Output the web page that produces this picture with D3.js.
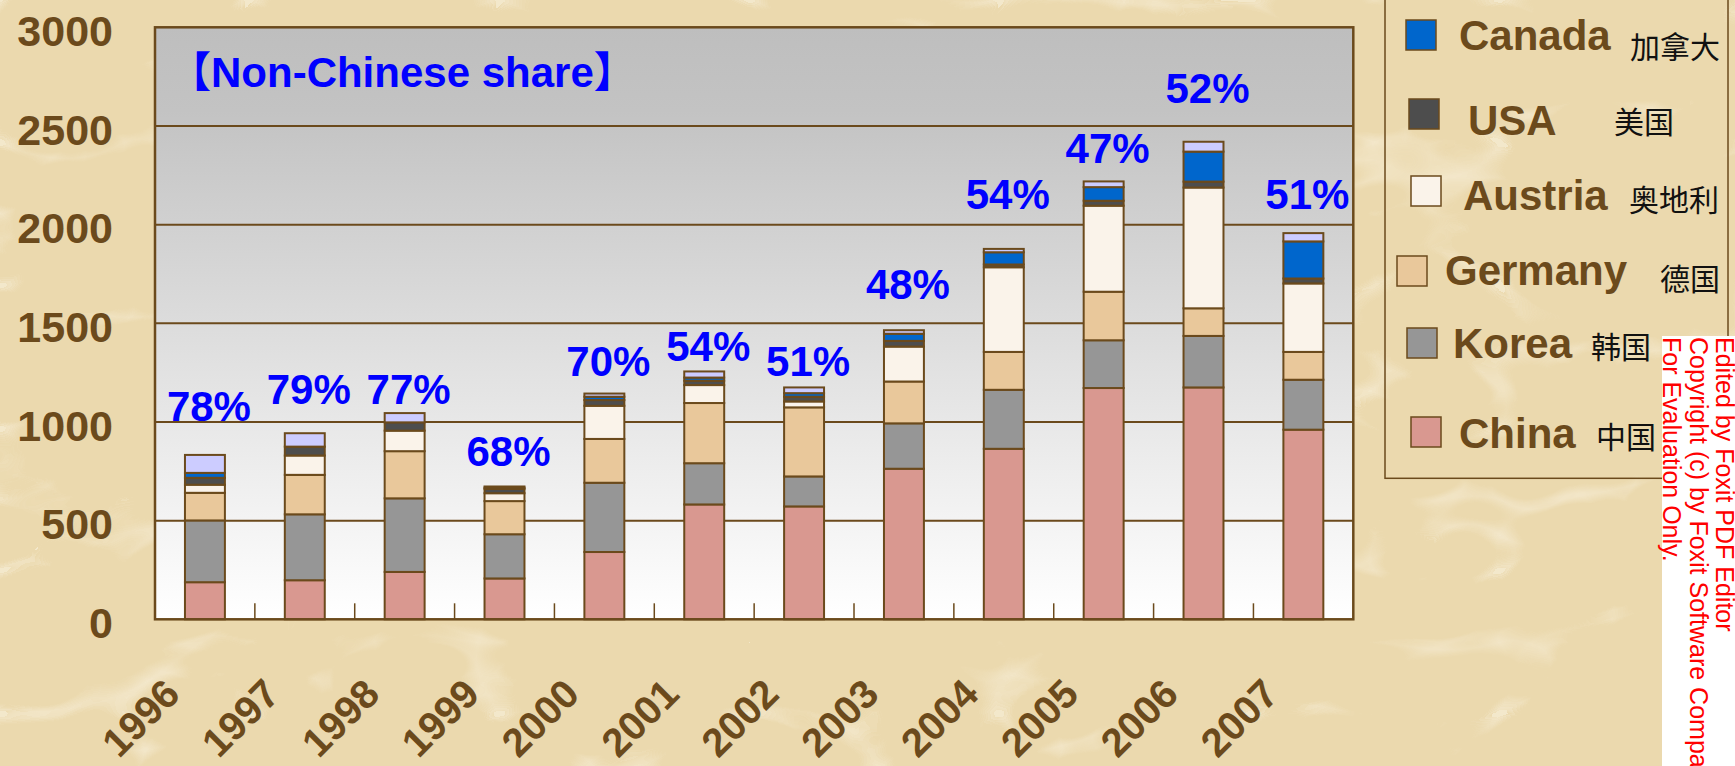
<!DOCTYPE html>
<html lang="en">
<head>
<meta charset="UTF-8">
<title>Non-Chinese share</title>
<script src="https://d3js.org/d3.v7.min.js"></script>
<style>
  body { margin: 0; background: #ebd9ae; }
  svg { display: block; }
  .num { font-family: "Liberation Sans", Arial, sans-serif; font-weight: bold; }
</style>
</head>
<body>
<svg id="chart" width="1735" height="766"></svg>
<script>
// values (bottom to top of each bar)
const years   = ["1996","1997","1998","1999","2000","2001","2002","2003","2004","2005","2006","2007"];
const china   = [188, 198, 240, 207, 341, 582, 572, 763, 864, 1172, 1175, 961];
const korea   = [313, 334, 373, 224, 351, 209, 152, 230, 299, 242, 261, 253];
const germany = [140, 200, 239, 168, 222, 305, 350, 212, 192, 246, 140, 141];
const austria = [41, 98, 104, 40, 168, 91, 30, 177, 429, 436, 612, 347];
const usa     = [35, 45, 42, 22, 29, 22, 24, 29, 14, 25, 30, 25];
const canada  = [25, 0, 0, 6, 17, 16, 18, 36, 62, 69, 152, 188];
const others  = [91, 68, 47, 6, 16, 31, 29, 18, 17, 29, 50, 42];

const shareLabels = ["78%","79%","77%","68%","70%","54%","51%","48%","54%","47%","52%","51%"];
const shareLabelAt = [1007, 1092, 1092, 779, 1234, 1310, 1234, 1623, 2077, 2310, 2614, 2077];

const yTicks = [0, 500, 1000, 1500, 2000, 2500, 3000];

const keys = ["China", "Korea", "Germany", "Austria", "USA", "Canada", "Others"];
const colors = {
  China: "#d99890", Korea: "#969696", Germany: "#e9c89b", Austria: "#faf3ea",
  USA: "#4d4d4d", Canada: "#0066cc", Others: "#ccccff"
};

const legendNames = ["Canada", "USA", "Austria", "Germany", "Korea", "China"];
const legendZh    = ["加拿大", "美国", "奥地利", "德国", "韩国", "中国"];
// hand-arranged legend, as in the slide
const legendLayout = [
  { sx: 1406, sy: 20,  tx: 1459, ty: 50,  zx: 1630, zy: 58 },
  { sx: 1409, sy: 99,  tx: 1468, ty: 135, zx: 1614, zy: 133 },
  { sx: 1411, sy: 176, tx: 1463, ty: 210, zx: 1629, zy: 211 },
  { sx: 1397, sy: 256, tx: 1445, ty: 285, zx: 1660, zy: 290 },
  { sx: 1407, sy: 328, tx: 1453, ty: 358, zx: 1591, zy: 358 },
  { sx: 1411, sy: 417, tx: 1459, ty: 448, zx: 1596, zy: 448 }
];

const brown = "#6b4a1c";
const rows = years.map((yr, i) => ({
  year: yr, China: china[i], Korea: korea[i], Germany: germany[i], Austria: austria[i],
  USA: usa[i], Canada: canada[i], Others: others[i]
}));

const svg = d3.select("#chart");
const plot = { left: 155, right: 1353.3, top: 27.3, bottom: 619.3 };

const x = d3.scaleBand().domain(years)
  .range([plot.left, plot.right])
  .paddingInner(0.6).paddingOuter(0.3);
const y = d3.scaleLinear().domain([0, 3000]).range([plot.bottom, plot.top]);

const defs = svg.append("defs");

// parchment texture for the slide background
const paper = defs.append("filter").attr("id", "paper")
  .attr("x", 0).attr("y", 0).attr("width", "100%").attr("height", "100%");
paper.append("feTurbulence")
  .attr("type", "turbulence").attr("baseFrequency", "0.004 0.007")
  .attr("numOctaves", 3).attr("seed", 11);
paper.append("feColorMatrix").attr("type", "matrix")
  .attr("values", "0 0 0 0 1  0 0 0 0 0.97  0 0 0 0 0.9  -5 0 0 0 0.75");

svg.append("rect").attr("width", 1735).attr("height", 766).attr("fill", "#ebd9ae");
svg.append("rect").attr("width", 1735).attr("height", 766)
  .attr("filter", "url(#paper)").attr("opacity", 0.55);

// plot background gradient
const grad = defs.append("linearGradient").attr("id", "bg")
  .attr("x1", 0).attr("y1", 0).attr("x2", 0).attr("y2", 1);
grad.append("stop").attr("offset", "0%").attr("stop-color", "#bebebe");
grad.append("stop").attr("offset", "14%").attr("stop-color", "#c3c3c3");
grad.append("stop").attr("offset", "100%").attr("stop-color", "#ffffff");

svg.append("rect")
  .attr("x", plot.left).attr("y", plot.top)
  .attr("width", plot.right - plot.left).attr("height", plot.bottom - plot.top)
  .attr("fill", "url(#bg)");

// gridlines
svg.append("g").selectAll("line")
  .data(yTicks.filter(d => d > 0 && d < 3000))
  .join("line")
  .attr("x1", plot.left).attr("x2", plot.right)
  .attr("y1", d => y(d)).attr("y2", d => y(d))
  .attr("stroke", brown).attr("stroke-width", 2);

// small ticks between categories
svg.append("g").selectAll("line")
  .data(years.slice(1))
  .join("line")
  .attr("x1", d => x(d) - (x.step() - x.bandwidth()) / 2)
  .attr("x2", d => x(d) - (x.step() - x.bandwidth()) / 2)
  .attr("y1", plot.bottom).attr("y2", plot.bottom - 16)
  .attr("stroke", brown).attr("stroke-width", 1.5);

// stacked bars
const series = d3.stack().keys(keys)(rows);
svg.append("g").selectAll("g")
  .data(series)
  .join("g")
  .attr("fill", d => colors[d.key])
  .selectAll("rect")
  .data(d => d)
  .join("rect")
  .attr("x", d => x(d.data.year))
  .attr("width", x.bandwidth())
  .attr("y", d => y(d[1]))
  .attr("height", d => y(d[0]) - y(d[1]))
  .attr("stroke", brown).attr("stroke-width", 2);

// plot frame
svg.append("rect")
  .attr("x", plot.left).attr("y", plot.top)
  .attr("width", plot.right - plot.left).attr("height", plot.bottom - plot.top)
  .attr("fill", "none").attr("stroke", brown).attr("stroke-width", 2.5);

// y axis
const yAxis = svg.append("g")
  .attr("transform", `translate(${plot.left},0)`)
  .call(d3.axisLeft(y).tickValues(yTicks).tickFormat(d3.format("d")).tickSize(0).tickPadding(42));
yAxis.select(".domain").remove();
yAxis.selectAll("text")
  .attr("class", "num")
  .attr("font-size", 43)
  .attr("dy", "0.42em")
  .attr("fill", brown);

// x axis
const xAxis = svg.append("g")
  .attr("transform", `translate(0,${plot.bottom})`)
  .call(d3.axisBottom(x).tickSize(0));
xAxis.select(".domain").remove();
xAxis.selectAll("text")
  .attr("class", "num")
  .attr("font-size", 40)
  .attr("fill", brown)
  .attr("y", 0).attr("dy", 0)
  .attr("text-anchor", "end")
  .attr("transform", "translate(-23,77) rotate(-45)");

// non-Chinese share labels
svg.append("g").selectAll("text")
  .data(years)
  .join("text")
  .attr("class", "num")
  .attr("x", (d, i) => x(d) + x.bandwidth() / 2 + 4)
  .attr("y", (d, i) => y(shareLabelAt[i]))
  .attr("text-anchor", "middle")
  .attr("font-size", 42)
  .attr("fill", "#0000ff")
  .text((d, i) => shareLabels[i]);

svg.append("text")
  .attr("x", 169).attr("y", 87)
  .attr("font-family", '"Liberation Sans", "Noto Sans CJK SC", sans-serif')
  .attr("font-weight", "bold")
  .attr("font-size", 42)
  .attr("fill", "#0000ff")
  .text("【Non-Chinese share】");

// legend
svg.append("rect")
  .attr("x", 1385).attr("y", -10).attr("width", 343).attr("height", 488.3)
  .attr("fill", "none").attr("stroke", brown).attr("stroke-width", 1.5);

const leg = svg.append("g").selectAll("g")
  .data(legendNames)
  .join("g");
leg.append("rect")
  .attr("x", (d, i) => legendLayout[i].sx).attr("y", (d, i) => legendLayout[i].sy)
  .attr("width", 30).attr("height", 30)
  .attr("fill", d => colors[d]).attr("stroke", brown).attr("stroke-width", 1.5);
leg.append("text")
  .attr("class", "num")
  .attr("x", (d, i) => legendLayout[i].tx).attr("y", (d, i) => legendLayout[i].ty)
  .attr("font-size", 42).attr("fill", brown)
  .text(d => d);
leg.append("text")
  .attr("x", (d, i) => legendLayout[i].zx).attr("y", (d, i) => legendLayout[i].zy)
  .attr("font-family", '"Noto Sans CJK SC", sans-serif')
  .attr("font-size", 30).attr("fill", "#111")
  .text((d, i) => legendZh[i]);

// evaluation watermark
svg.append("rect")
  .attr("x", 1662).attr("y", 336).attr("width", 80).attr("height", 440)
  .attr("fill", "#ffffff");
const wm = svg.append("text")
  .attr("transform", "translate(1716,337) rotate(90)")
  .attr("font-family", '"Liberation Sans", Arial, sans-serif')
  .attr("font-size", 25).attr("fill", "#ff0000");
["Edited by Foxit PDF Editor", "Copyright (c) by Foxit Software Company, 2004 - 2007", "For Evaluation Only."]
  .forEach((t, i) => wm.append("tspan").attr("x", 0).attr("y", i * 26.5).text(t));
</script>
</body>
</html>
